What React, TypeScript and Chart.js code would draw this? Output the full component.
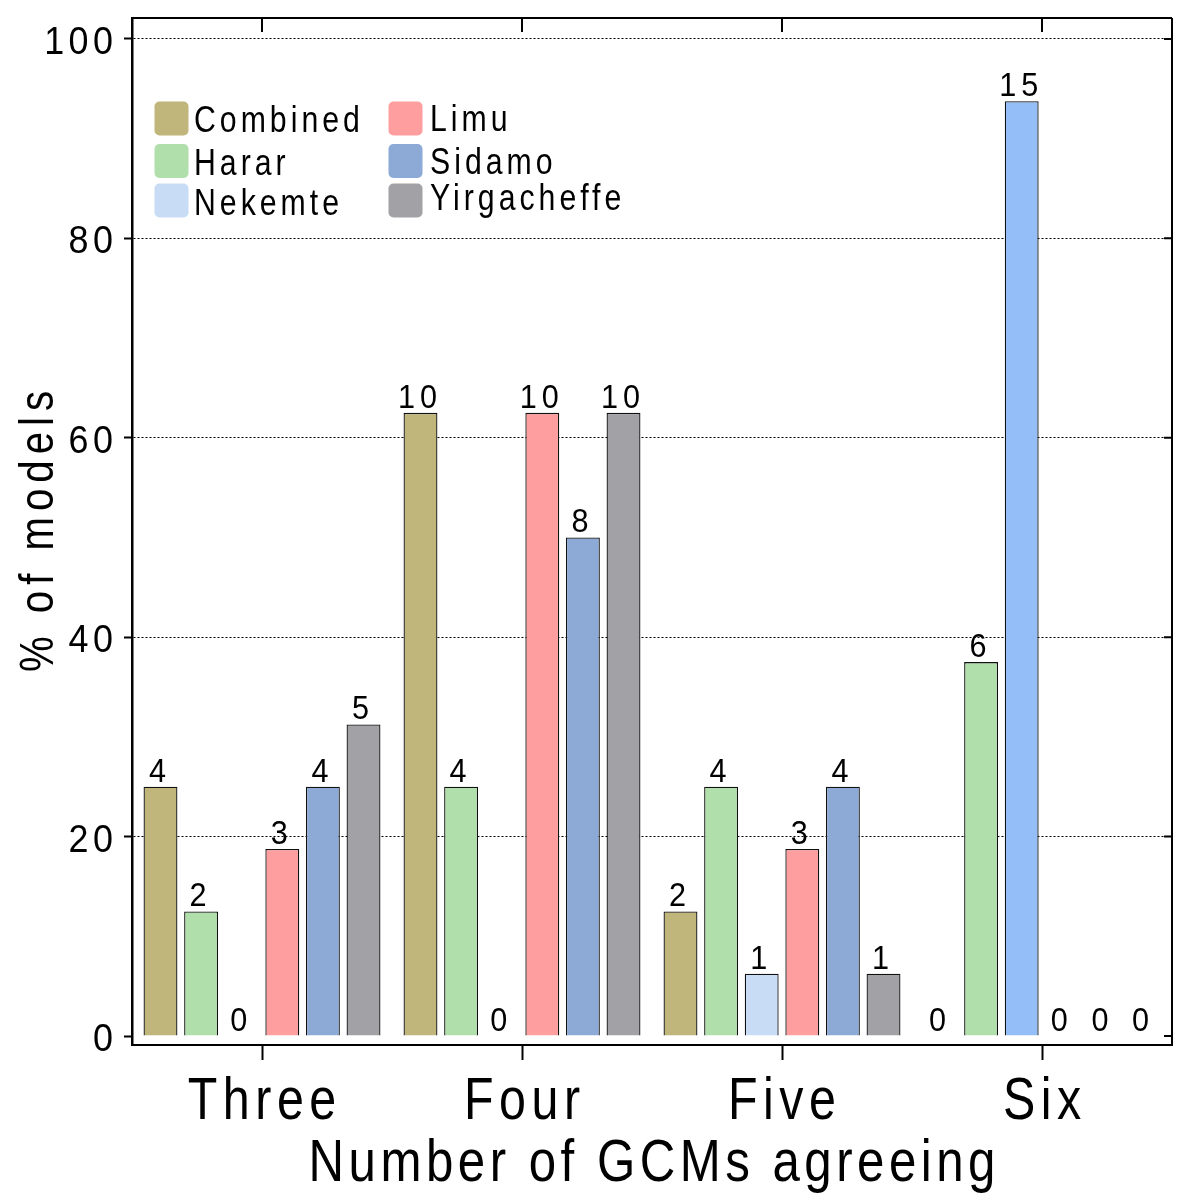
import React, { useEffect, useRef } from 'react';
import { Chart, registerables } from 'chart.js';

Chart.register(...registerables);

const FF = "'Liberation Sans', Arial, sans-serif";

const categories = ['Three', 'Four', 'Five', 'Six'];
const seriesNames = ['Combined', 'Harar', 'Nekemte', 'Limu', 'Sidamo', 'Yirgacheffe'];
const xTitle = 'Number of GCMs agreeing';
const yTitle = '% of models';

// % of models (bar heights)
const combinedPct = [25, 62.5, 12.5, 0];
const hararPct = [12.5, 25, 25, 37.5];
const nekemtePct = [0, 0, 6.25, 93.75];
const limuPct = [18.75, 62.5, 18.75, 0];
const sidamoPct = [25, 50, 25, 0];
const yirgacheffePct = [31.25, 62.5, 6.25, 0];

// number of models (labels above bars)
const combinedCounts = [4, 10, 2, 0];
const hararCounts = [2, 4, 4, 6];
const nekemteCounts = [0, 0, 1, 15];
const limuCounts = [3, 10, 3, 0];
const sidamoCounts = [4, 8, 4, 0];
const yirgacheffeCounts = [5, 10, 1, 0];

const yTicks = [0, 20, 40, 60, 80, 100];

const combinedColor = '#c0b57a';
const hararColor = '#b0dfab';
const nekemteColors = ['#c8dcf6', '#c8dcf6', '#c8dcf6', '#93bef7'];
const limuColor = '#ff9e9e';
const sidamoColor = '#8caad5';
const yirgacheffeColor = '#a1a1a6';
const legendColors = [combinedColor, hararColor, '#c8dcf6', limuColor, sidamoColor, yirgacheffeColor];

const allPct = [combinedPct, hararPct, nekemtePct, limuPct, sidamoPct, yirgacheffePct];
const allCounts = [combinedCounts, hararCounts, nekemteCounts, limuCounts, sidamoCounts, yirgacheffeCounts];
const allColors: any[] = [combinedColor, hararColor, nekemteColors, limuColor, sidamoColor, yirgacheffeColor];

function drawText(
  ctx: CanvasRenderingContext2D,
  text: string,
  x: number,
  y: number,
  size: number,
  spacing: number,
  sx: number,
  align: 'left' | 'center' | 'right',
  rotate = 0,
) {
  ctx.save();
  ctx.font = `${size}px ${FF}`;
  (ctx as any).letterSpacing = '0px';
  const w0 = ctx.measureText(text).width;
  const n = Array.from(text).length;
  const total = w0 * sx + spacing * (n - 1);
  ctx.translate(x, y);
  if (rotate) ctx.rotate(rotate);
  const start = align === 'left' ? 0 : align === 'center' ? -total / 2 : -total;
  ctx.translate(start, 0);
  ctx.scale(sx, 1);
  (ctx as any).letterSpacing = `${spacing / sx}px`;
  ctx.textAlign = 'left';
  ctx.textBaseline = 'alphabetic';
  ctx.fillStyle = '#000';
  ctx.fillText(text, 0, 0);
  ctx.restore();
}

const framePlugin = {
  id: 'frame',
  afterDraw(chart: any) {
    const { ctx, chartArea: a, scales } = chart;
    ctx.save();
    ctx.strokeStyle = '#000';
    ctx.lineWidth = 2;
    ctx.beginPath();
    ctx.moveTo(a.left, a.top);
    ctx.lineTo(a.right, a.top);
    ctx.moveTo(a.right, a.top);
    ctx.lineTo(a.right, a.bottom);
    categories.forEach((_, i) => {
      const x = scales.x.getPixelForValue(i);
      ctx.moveTo(x, a.top);
      ctx.lineTo(x, a.top + 14);
    });
    yTicks.forEach((v) => {
      const y = scales.y.getPixelForValue(v);
      ctx.moveTo(a.right - 8, y);
      ctx.lineTo(a.right, y);
    });
    ctx.stroke();
    ctx.restore();
  },
};

const axisTextPlugin = {
  id: 'axisText',
  afterDraw(chart: any) {
    const { ctx, chartArea: a, scales } = chart;
    yTicks.forEach((v) => {
      const y = scales.y.getPixelForValue(v);
      drawText(ctx, String(v), 113, y + 15, 39, 4.5, 0.92, 'right');
    });
    categories.forEach((c, i) => {
      const x = scales.x.getPixelForValue(i);
      drawText(ctx, c, x, 1119, 59, 5.5, 0.82, 'center');
    });
    drawText(ctx, xTitle, (a.left + a.right) / 2, 1181, 60, 4.5, 0.82, 'center');
    drawText(ctx, yTitle, 53, (a.top + a.bottom) / 2, 49, 6, 0.82, 'center', -Math.PI / 2);
  },
};

const labelPlugin = {
  id: 'barLabels',
  afterDatasetsDraw(chart: any) {
    const { ctx } = chart;
    chart.data.datasets.forEach((_ds: any, di: number) => {
      const meta = chart.getDatasetMeta(di);
      meta.data.forEach((el: any, i: number) => {
        drawText(ctx, String(allCounts[di][i]), el.x - 3, el.y - 5, 34, 5, 0.9, 'center');
      });
    });
  },
};

const legendPlugin = {
  id: 'innerLegend',
  afterDraw(chart: any) {
    const { ctx } = chart;
    const colBoxX = [154.5, 388.5];
    const colTextX = [194, 430];
    const boxTop = [[101.5, 144, 183.5], [101.5, 144, 183.5]];
    const baseY = [[131.5, 175, 215], [131, 173.5, 210]];
    seriesNames.forEach((name, i) => {
      const c = Math.floor(i / 3);
      const r = i % 3;
      ctx.save();
      ctx.fillStyle = legendColors[i];
      ctx.beginPath();
      (ctx as any).roundRect(colBoxX[c], boxTop[c][r], 34, 34, 5);
      ctx.fill();
      ctx.restore();
      drawText(ctx, name, colTextX[c], baseY[c][r], 36, 4, 0.84, 'left');
    });
  },
};

export default function App() {
  const ref = useRef<HTMLCanvasElement>(null);
  useEffect(() => {
    if (!ref.current) return;
    const chart = new Chart(ref.current, {
      type: 'bar',
      data: {
        labels: categories,
        datasets: seriesNames.map((name, i) => ({
          label: name,
          data: allPct[i],
          backgroundColor: allColors[i],
          borderColor: '#111',
          borderWidth: 1.3,
          categoryPercentage: 0.937,
          barPercentage: 0.835,
        })),
      },
      options: {
        animation: false,
        responsive: false,
        layout: { padding: { top: 18, right: 11, left: 0, bottom: 0 } },
        plugins: { legend: { display: false }, tooltip: { enabled: false } },
        scales: {
          x: {
            offset: true,
            grid: { offset: false, drawOnChartArea: false, tickLength: 15, tickWidth: 2, tickColor: '#000' },
            border: { color: '#000', width: 2 },
            ticks: { display: false },
            afterFit: (s: any) => { s.height = 155; },
          },
          y: {
            min: -0.9,
            max: 102.1,
            bounds: 'data',
            afterBuildTicks: (s: any) => { s.ticks = yTicks.map((v) => ({ value: v })); },
            grid: {
              color: (c: any) => (c.tick && c.tick.value === 0 ? 'rgba(0,0,0,0)' : '#000'),
              lineWidth: 1,
              tickColor: '#000',
              tickLength: 8,
              tickWidth: 2,
            },
            border: { display: true, color: '#000', width: 2.5, dash: [2, 2] },
            ticks: { display: false },
            afterFit: (s: any) => { s.width = 132; },
          },
        },
      },
      plugins: [framePlugin, labelPlugin, legendPlugin, axisTextPlugin],
    } as any);
    return () => chart.destroy();
  }, []);
  return (
    <div style={{ position: 'absolute', left: 0, top: 0, width: 1183, height: 1200, background: '#fff' }}>
      <canvas ref={ref} width={1183} height={1200} />
    </div>
  );
}
